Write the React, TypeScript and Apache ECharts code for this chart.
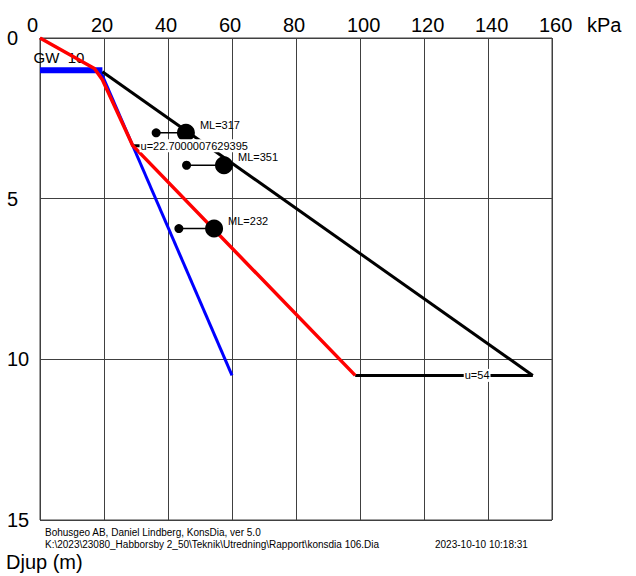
import React, { useEffect, useRef } from "react";
import * as echarts from "echarts";

// ---- data ----
const gwDepth = 1.0;
const gwX = [0, 19.5];
const gwLabel = "GW  10";

const blueX = [19, 60];
const blueDepth = [1.05, 10.5];

const redX = [0, 17, 19.5, 29, 98.5];
const redDepth = [0, 0.95, 1.3, 3.35, 10.5];

const blackX = [19.5, 154];
const blackDepth = [1.05, 10.5];

const uStartX = [29, 98.5];
const uEndX = [45, 154];
const uDepth = [3.35, 10.5];
const uLabelX = [48.2, 136.6];
const uTexts = ["u=22.7000007629395", "u=54"];

const mlDepth = [2.95, 3.96, 5.93];
const mlSmallX = [36.3, 45.8, 43.4];
const mlBigX = [45.6, 57.5, 54.4];
const mlValues = [317, 351, 232];

const footer1 = "Bohusgeo AB, Daniel Lindberg, KonsDia, ver 5.0";
const footer2 = "K:\\2023\\23080_Habborsby 2_50\\Teknik\\Utredning\\Rapport\\konsdia 106.Dia";
const footerDate = "2023-10-10 10:18:31";
const xUnit = "kPa";
const yName = "Djup (m)";

const FONT = "'Liberation Sans', Arial, sans-serif";
const GRIDC = "#404040";

export default function App() {
  const ref = useRef<HTMLDivElement>(null);
  useEffect(() => {
    if (!ref.current) return;
    const chart = echarts.init(ref.current, undefined, { renderer: "svg" });
    const lineS = (name: string, data: number[][], color: string, width: number, z: number) => ({
      name,
      type: "line",
      data,
      symbol: "none",
      lineStyle: { color, width, opacity: 1 },
      z,
      silent: true,
    });
    const series: any[] = [];
    series.push(lineS("gw", gwX.map((x) => [x, gwDepth]), "#0000ff", 6, 2));
    series.push(lineS("blue", blueX.map((x, i) => [x, blueDepth[i]]), "#0000ff", 3, 2));
    series.push(lineS("black", blackX.map((x, i) => [x, blackDepth[i]]), "#000", 3, 3));
    uDepth.forEach((d, i) =>
      series.push(lineS("u" + i, [[uStartX[i], d], [uEndX[i], d]], "#000", 3, 3))
    );
    series.push(lineS("red", redX.map((x, i) => [x, redDepth[i]]), "#ff0000", 3.5, 4));
    mlDepth.forEach((d, i) =>
      series.push(lineS("mlc" + i, [[mlSmallX[i], d], [mlBigX[i], d]], "#000", 1.5, 5))
    );
    series.push({
      type: "scatter",
      data: mlSmallX.map((x, i) => [x, mlDepth[i]]),
      symbolSize: 9,
      itemStyle: { color: "#000", opacity: 1 },
      z: 6,
      silent: true,
    });
    series.push({
      type: "scatter",
      data: mlBigX.map((x, i) => ({ value: [x, mlDepth[i]], label: { formatter: "ML=" + mlValues[i] } })),
      symbolSize: 18,
      itemStyle: { color: "#000", opacity: 1 },
      label: {
        show: true,
        position: "right",
        distance: 5,
        offset: [0, -8],
        fontSize: 11,
        fontFamily: FONT,
        color: "#000",
        opacity: 1,
      },
      z: 6,
      silent: true,
    });
    series.push({
      type: "scatter",
      data: uLabelX.map((x, i) => ({ value: [x, uDepth[i]], label: { formatter: uTexts[i] } })),
      symbolSize: 1,
      itemStyle: { color: "#fff", opacity: 0 },
      label: {
        show: true,
        position: "inside",
        fontSize: 11,
        fontFamily: FONT,
        color: "#000",
        opacity: 1,
        backgroundColor: "#fff",
        padding: [1, 1],
      },
      z: 10,
      silent: true,
    });
    series.push({
      type: "scatter",
      data: [{ value: [0, gwDepth], label: { formatter: gwLabel } }],
      symbolSize: 1,
      itemStyle: { color: "#fff", opacity: 0 },
      label: {
        show: true,
        position: "insideBottomLeft",
        offset: [-11, -1],
        fontSize: 15,
        fontFamily: FONT,
        color: "#000",
        opacity: 1,
      },
      z: 1,
      silent: true,
    });

    chart.setOption({
      animation: false,
      grid: {
        left: 40,
        top: 38,
        width: 512,
        height: 482,
        show: true,
        borderColor: GRIDC,
        borderWidth: 1,
      },
      xAxis: {
        type: "value",
        position: "top",
        min: 0,
        max: 160,
        interval: 20,
        axisLine: { show: true, lineStyle: { color: GRIDC, width: 1 } },
        axisTick: { show: false },
        splitLine: { show: true, lineStyle: { color: GRIDC, width: 1 } },
        axisLabel: {
          fontSize: 20,
          fontFamily: FONT,
          color: "#000",
          margin: 3,
          align: "left",
          padding: [0, 0, 0, -13],
        },
      },
      yAxis: {
        type: "value",
        inverse: true,
        min: 0,
        max: 15,
        interval: 5,
        axisLine: { show: true, lineStyle: { color: GRIDC, width: 1 } },
        axisTick: { show: false },
        splitLine: { show: true, lineStyle: { color: GRIDC, width: 1 } },
        axisLabel: {
          fontSize: 20,
          fontFamily: FONT,
          color: "#000",
          margin: 33,
          align: "left",
        },
      },
      graphic: [
        {
          type: "text",
          x: 587,
          y: 25,
          style: { text: xUnit, font: `20px ${FONT}`, fill: "#000", textVerticalAlign: "middle" },
        },
        {
          type: "text",
          x: 6,
          y: 562,
          style: { text: yName, font: `20px ${FONT}`, fill: "#000", textVerticalAlign: "middle" },
        },
        {
          type: "text",
          x: 45,
          y: 532.5,
          style: { text: footer1, font: `10px ${FONT}`, fill: "#000", textVerticalAlign: "middle" },
        },
        {
          type: "text",
          x: 45,
          y: 544.5,
          style: { text: footer2, font: `10px ${FONT}`, fill: "#000", textVerticalAlign: "middle" },
        },
        {
          type: "text",
          x: 435,
          y: 544.5,
          style: { text: footerDate, font: `10px ${FONT}`, fill: "#000", textVerticalAlign: "middle" },
        },
      ],
      series,
    });
    return () => chart.dispose();
  }, []);
  return (
    <div
      ref={ref}
      style={{ position: "fixed", left: 0, top: 0, width: 636, height: 576, background: "#fff" }}
    />
  );
}
